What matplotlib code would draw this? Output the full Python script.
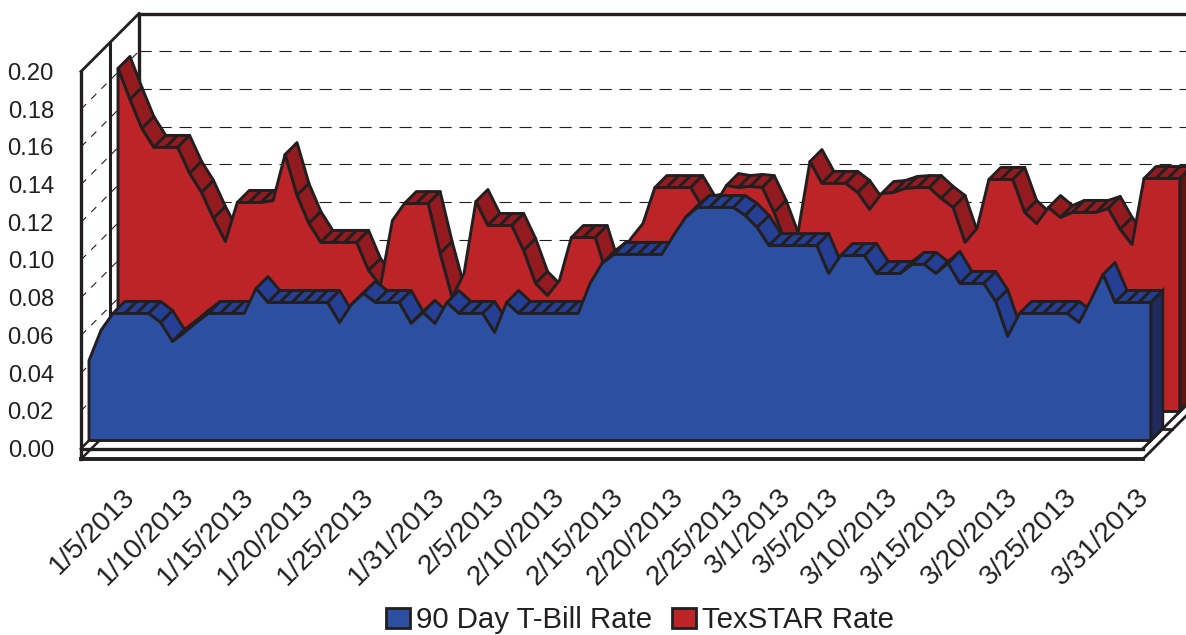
import matplotlib
matplotlib.use("Agg")
import matplotlib.pyplot as plt
from matplotlib.patches import Polygon, Patch
from matplotlib.transforms import ScaledTranslation

plt.rcParams['font.family'] = ['Liberation Sans', 'DejaVu Sans']

tick_days = [4, 9, 14, 19, 24, 30, 35, 40, 45, 50, 55, 59, 63, 68, 73, 78, 83, 89]
tick_labels = ['1/5/2013', '1/10/2013', '1/15/2013', '1/20/2013', '1/25/2013', '1/31/2013',
               '2/5/2013', '2/10/2013', '2/15/2013', '2/20/2013', '2/25/2013', '3/1/2013',
               '3/5/2013', '3/10/2013', '3/15/2013', '3/20/2013', '3/25/2013', '3/31/2013']
y_ticks = [0.00, 0.02, 0.04, 0.06, 0.08, 0.10, 0.12, 0.14, 0.16, 0.18, 0.20]

tbill = [.0424, .0584, .0674, .0674, .0674, .0674, .0626, .0525, .0573, .0626,
         .0674, .0674, .0674, .0674, .0806, .0732, .0732, .0732, .0732, .0732,
         .0732, .0626, .0721, .0780, .0732, .0732, .0732, .0621, .0679, .0621,
         .0732, .0674, .0674, .0674, .0573, .0732, .0674, .0674, .0674, .0674,
         .0674, .0674, .0833, .0939, .0987, .0987, .0987, .0987, .0987, .1088,
         .1183, .1236, .1236, .1236, .1236, .1194, .1130, .1034, .1034, .1034,
         .1034, .1034, .0886, .0981, .0981, .0981, .0886, .0886, .0886, .0934,
         .0934, .0886, .0939, .0833, .0833, .0833, .0737, .0552, .0674, .0674,
         .0674, .0674, .0674, .0626, .0748, .0881, .0732, .0732, .0732, .0732]

texstar = [.1820, .1655, .1501, .1401, .1401, .1401, .1263, .1162, .1024, .0902,
           .1109, .1109, .1109, .1119, .1363, .1146, .0997, .0897, .0897, .0897,
           .0897, .0748, .0668, .1013, .1103, .1103, .1103, .0838, .0605, .0732,
           .1114, .0987, .0987, .0987, .0854, .0679, .0615, .0695, .0923, .0923,
           .0923, .0721, .0812, .0918, .0997, .1188, .1188, .1188, .1188, .1082,
           .1093, .1199, .1188, .1194, .1188, .1056, .0886, .0950, .1326, .1210,
           .1210, .1210, .1162, .1072, .1156, .1162, .1183, .1188, .1188, .1130,
           .1082, .0897, .0971, .1231, .1231, .1231, .1056, .0997, .1082, .1029,
           .1056, .1056, .1056, .1077, .0966, .0886, .1236, .1236, .1236, .1236]

W, H = 1186, 635
INK = '#231F20'
PX_X = 11.93     # pixels per day
PX_Y = 1885.0    # pixels per unit of rate
LEFT, RIGHT, BOTTOM, TOP = 81, 1143, 448.5, 71.5
WALL = 58        # depth of the side wall, pixels
BAND = 12        # thickness of an area, pixels

fig = plt.figure(figsize=(W / 100, H / 100), dpi=100)
ax = fig.add_axes([LEFT / W, 1 - BOTTOM / H, (RIGHT - LEFT) / W, (BOTTOM - TOP) / H])
ax.set_xlim(0, (RIGHT - LEFT) / PX_X)
ax.set_ylim(0, 0.20)
for s in ax.spines.values():
    s.set_visible(False)
ax.patch.set_visible(False)


def P(day, val, d=0.0):
    return (day + d / PX_X, val + d / PX_Y)


def line(p, q, **kw):
    ax.plot([p[0], q[0]], [p[1], q[1]], clip_on=False, color=INK,
            solid_capstyle='projecting', **kw)


end = (RIGHT - LEFT) / PX_X
far = (W + 40 - LEFT) / PX_X
SLAB = 10.5 / PX_Y

# dashed grid on the back wall and the side wall
for v in y_ticks[1:-1]:
    a, b = P(0, v), P(0, v, WALL)
    ax.plot([a[0], b[0]], [a[1], b[1]], color=INK, lw=0.8, dashes=(6.5, 6.5), clip_on=False, zorder=1)
    ax.plot([b[0], far], [b[1], b[1]], color=INK, lw=0.8, dashes=(11, 7), zorder=1, clip_on=False)

# walls
line(P(0, 0.20), P(0, 0.20, WALL), lw=2.0, zorder=2)
line(P(0, 0.20, WALL), (far, P(0, 0.20, WALL)[1]), lw=2.4, zorder=2)
line(P(0, 0.20, WALL), P(0, 0, WALL), lw=2.4, zorder=2)
line(P(0, 0.20, 29), P(0, 0, 29), lw=2.2, zorder=2)
line(P(0, -SLAB), P(0, 0.20), lw=2.4, zorder=2)

# floor
line(P(0, 0), P(end, 0), lw=2.4, zorder=2)
line(P(0, -SLAB), P(end, -SLAB), lw=2.8, zorder=2)
line(P(0, 0), P(0, 0, WALL), lw=1.8, zorder=2)
line(P(0, -SLAB), P(0, -SLAB, 20), lw=1.8, zorder=2)
line(P(end, 0), P(end, 0, WALL), lw=2.0, zorder=2)
line(P(end, -SLAB), P(end, -SLAB, WALL), lw=2.0, zorder=2)
line(P(end, 0, 20), (P(end, 0, 20)[0] + 9 / PX_X, P(end, 0, 20)[1]), lw=2.0, zorder=7)


def area(vals, d, front, top, side, z):
    n = len(vals)
    # top faces, left to right; a face rising steeper than the depth direction looks away
    for i in range(n - 1):
        p0, p1 = P(i, vals[i], d), P(i + 1, vals[i + 1], d)
        rise = (vals[i + 1] - vals[i]) * PX_Y
        if rise > PX_X:
            continue
        ax.add_patch(Polygon([p0, p1, P(i + 1, vals[i + 1], d + BAND), P(i, vals[i], d + BAND)],
                             closed=True, fc=top, ec=INK, lw=2.1, joinstyle='round',
                             clip_on=False, zorder=z))
    # right-hand side
    ax.add_patch(Polygon([P(n - 1, vals[-1], d), P(n - 1, vals[-1], d + BAND),
                          P(n - 1, 0, d + BAND), P(n - 1, 0, d)],
                         closed=True, fc=side, ec=INK, lw=2.1, clip_on=False, zorder=z))
    # front
    outline = [P(i, vals[i], d) for i in range(n)] + [P(n - 1, 0, d), P(0, 0, d)]
    ax.add_patch(Polygon(outline, closed=True, fc=front, ec=INK, lw=2.1,
                         joinstyle='round', clip_on=False, zorder=z + 0.5))


area(texstar, 37, '#BC2427', '#931B1F', '#5E1510', 3)
area(tbill, 8, '#2D4FA1', '#243F93', '#1E2A60', 5)

ax.set_yticks(y_ticks)
ax.set_yticklabels([f'{v:.2f}' for v in y_ticks], fontsize=17.2, color=INK)
ax.tick_params(axis='y', length=0, pad=19.5)
ax.set_xticks(tick_days)
ax.set_xticklabels(tick_labels, fontsize=20.2, color=INK, rotation=45, ha='right',
                   va='top', rotation_mode='anchor')
ax.tick_params(axis='x', length=0, pad=25.5)
shift = ScaledTranslation(-7 / 100, 0, fig.dpi_scale_trans)
for lab in ax.get_xticklabels():
    lab.set_transform(lab.get_transform() + shift)

handles = [Patch(fc='#2D4FA1', ec=INK, lw=2), Patch(fc='#BC2427', ec=INK, lw=2)]
fig.legend(handles, ['90 Day T-Bill Rate', 'TexSTAR Rate'], ncol=2, frameon=False,
           fontsize=21.2, loc='lower center', bbox_to_anchor=(640 / W, 0.001),
           handlelength=0.82, handleheight=0.62, handletextpad=0.2, columnspacing=0.68,
           labelcolor=INK, borderpad=0, borderaxespad=0)

fig.savefig('out.png', dpi=100)
